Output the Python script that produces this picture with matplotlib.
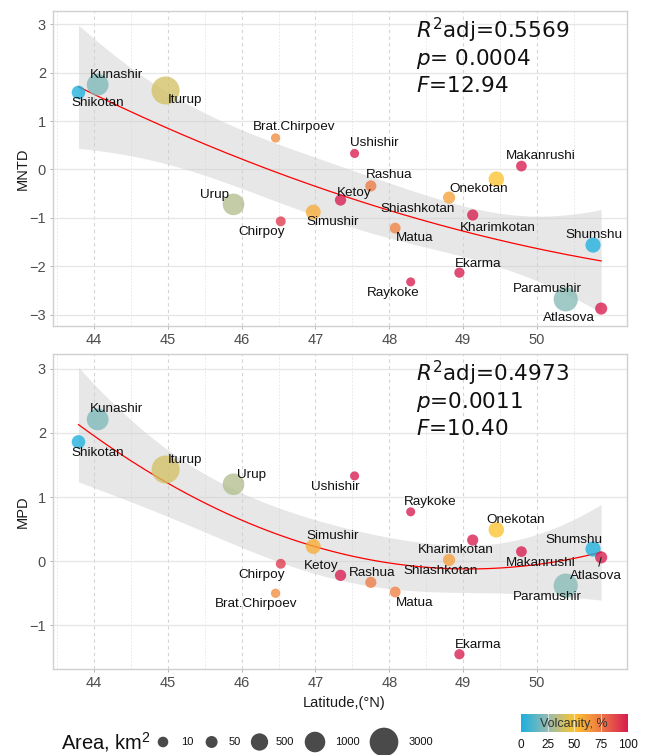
import numpy as np
import matplotlib
matplotlib.use("Agg")
import matplotlib.pyplot as plt
from matplotlib.colors import LinearSegmentedColormap

plt.rcParams['font.family'] = ['Liberation Sans', 'DejaVu Sans']
plt.rcParams['mathtext.fontset'] = 'custom'
plt.rcParams['mathtext.rm'] = 'Liberation Sans'
plt.rcParams['mathtext.it'] = 'Liberation Sans:italic'

# ---- data ----
islands = ["Shikotan", "Kunashir", "Iturup", "Urup", "Brat.Chirpoev", "Chirpoy",
           "Simushir", "Ketoy", "Ushishir", "Rashua", "Matua", "Raykoke",
           "Shiashkotan", "Ekarma", "Kharimkotan", "Onekotan", "Makanrushi",
           "Paramushir", "Shumshu", "Atlasova"]
latitude = [43.79, 44.05, 44.97, 45.89, 46.46, 46.53,
            46.97, 47.34, 47.53, 47.75, 48.08, 48.29,
            48.81, 48.95, 49.13, 49.45, 49.79,
            50.39, 50.76, 50.87]
mntd = [1.59, 1.75, 1.63, -0.72, 0.65, -1.07,
        -0.88, -0.63, 0.33, -0.34, -1.21, -2.32,
        -0.58, -2.13, -0.94, -0.20, 0.07,
        -2.68, -1.56, -2.87]
mpd = [1.86, 2.21, 1.43, 1.20, -0.50, -0.04,
       0.23, -0.22, 1.33, -0.33, -0.48, 0.77,
       0.02, -1.45, 0.33, 0.49, 0.15,
       -0.38, 0.19, 0.06]
area = [225, 1490, 3174, 1450, 9, 21,
        353, 73, 5, 67, 52, 4.6,
        122, 30, 68, 425, 49,
        2053, 388, 119]
volcanicity = [0, 20, 40, 32, 68, 92,
               58, 100, 100, 74, 72, 100,
               62, 100, 100, 50, 100,
               22, 0, 100]

area_keys = [10, 50, 500, 1000, 3000]
volc_ticks = [0, 25, 50, 75, 100]

mntd_stats = [r"$R^2$adj=0.5569", r"$p$= 0.0004", r"$F$=12.94"]
mpd_stats = [r"$R^2$adj=0.4973", r"$p$=0.0011", r"$F$=10.40"]

# label offsets in pixels (dx, dy) from each point
mntd_offsets = {
    "Shikotan": (19, -11), "Kunashir": (19, 10), "Iturup": (19, -10),
    "Urup": (-19, 9), "Brat.Chirpoev": (19, 11), "Chirpoy": (-19, -11),
    "Simushir": (19, -10), "Ketoy": (14, 7), "Ushishir": (20, 10),
    "Rashua": (18, 11), "Matua": (19, -10), "Raykoke": (-18, -11),
    "Shiashkotan": (-31, -11), "Ekarma": (19, 9), "Kharimkotan": (25, -13),
    "Onekotan": (-18, -10), "Makanrushi": (19, 10), "Paramushir": (-18, 10),
    "Shumshu": (1, 10), "Atlasova": (-32, -9),
}
mpd_offsets = {
    "Shikotan": (19, -11), "Kunashir": (19, 10), "Iturup": (19, 9),
    "Urup": (18, 9), "Brat.Chirpoev": (-19, -11), "Chirpoy": (-19, -11),
    "Simushir": (19, 10), "Ketoy": (-19, 9), "Ushishir": (-19, -11),
    "Rashua": (1, 9), "Matua": (19, -11), "Raykoke": (19, 10),
    "Shiashkotan": (-8, -11), "Ekarma": (19, 9), "Kharimkotan": (-17, -10),
    "Onekotan": (19, 10), "Makanrushi": (19, -11), "Paramushir": (-18, -11),
    "Shumshu": (-19, 9), "Atlasova": (-5, -19),
}

volc_cmap = LinearSegmentedColormap.from_list(
    "volc", ["#1CB0DE", "#96BCB2", "#FCC430", "#EE7846", "#D81C50"])

W, H = 645, 755
fig = plt.figure(figsize=(W / 100, H / 100), dpi=100)


def diam_px(a):
    return 8.3 + 0.35 * np.sqrt(np.asarray(a, dtype=float))


def quad_fit(x, y, xs):
    x = np.asarray(x)
    y = np.asarray(y)
    xm = x.mean()
    X = np.column_stack([np.ones_like(x), x - xm, (x - xm) ** 2])
    beta, *_ = np.linalg.lstsq(X, y, rcond=None)
    resid = y - X @ beta
    s2 = resid @ resid / (len(x) - 3)
    XtXi = np.linalg.inv(X.T @ X)
    Xs = np.column_stack([np.ones_like(xs), xs - xm, (xs - xm) ** 2])
    fit = Xs @ beta
    se = np.sqrt(s2 * np.einsum('ij,jk,ik->i', Xs, XtXi, Xs))
    t = 2.1098  # t(0.975, df=17)
    return fit, fit - t * se, fit + t * se


def panel(rect, yvals, ylim, yticks, ylabel, stats, offsets):
    ax = fig.add_axes(rect)
    ax.set_xlim(43.445, 51.22)
    ax.set_ylim(*ylim)
    ax.set_xticks([44, 45, 46, 47, 48, 49, 50])
    ax.set_xticks(np.arange(43.5, 51.1, 1.0), minor=True)
    ax.set_yticks(yticks)
    ax.set_axisbelow(True)
    ax.grid(axis='y', which='major', color='#e6e6e6', lw=0.9, ls='-')
    ax.grid(axis='x', which='major', color='#d4d4d4', lw=0.8, ls=(0, (3, 3)))
    ax.grid(axis='x', which='minor', color='#e4e4e4', lw=0.6, ls=(0, (2, 2)))
    for s in ax.spines.values():
        s.set_color('#d0d0d0')
        s.set_linewidth(1.0)
    ax.tick_params(which='major', length=2.5, width=0.7, color='#b3b3b3',
                   labelsize=10.5, labelcolor='#4d4d4d', pad=2.5)
    ax.tick_params(which='minor', length=0)

    xs = np.linspace(min(latitude), max(latitude), 200)
    fit, lo, hi = quad_fit(latitude, yvals, xs)
    ax.fill_between(xs, lo, hi, color='#d0d0d0', alpha=0.5, lw=0, zorder=2)
    ax.plot(xs, fit, color='#ff0000', lw=0.9, zorder=3)

    ax.scatter(latitude, yvals, s=(diam_px(area) * 0.72) ** 2,
               c=volcanicity, cmap=volc_cmap, vmin=0, vmax=100,
               alpha=0.78, lw=0, zorder=4)

    for name, x, y in zip(islands, latitude, yvals):
        dx, dy = offsets[name]
        kw = {}
        if abs(dy) > 15:
            kw['arrowprops'] = dict(arrowstyle='-', color='#222222', lw=0.8,
                                    shrinkA=1, shrinkB=0)
        ax.annotate(name, (x, y), xytext=(dx, dy), textcoords='offset pixels',
                    ha='center', va='center', fontsize=9.7, color='#111111',
                    zorder=5, **kw)

    for i, line in enumerate(stats):
        ax.text(0.632, [0.914, 0.829, 0.743][i], line, transform=ax.transAxes,
                ha='left', va='baseline', fontsize=15.5, color='#111111',
                family='DejaVu Sans', math_fontfamily='dejavusans', zorder=6)

    bb = ax.get_position()
    fig.text(23 / W, bb.y0 + bb.height / 2, ylabel, rotation=90, ha='center',
             va='center', fontsize=10.5, color='#1a1a1a')
    return ax


ax1 = panel([53 / W, 1 - 326 / H, 574 / W, 315 / H], mntd, (-3.23, 3.27),
            [-3, -2, -1, 0, 1, 2, 3], "MNTD", mntd_stats, mntd_offsets)
ax2 = panel([53 / W, 1 - 669 / H, 574 / W, 315 / H], mpd, (-1.68, 3.23),
            [-1, 0, 1, 2, 3], "MPD", mpd_stats, mpd_offsets)

fig.text(344 / W, 1 - 703 / H, "Latitude,(°N)", ha='center', va='center',
         fontsize=10.5, color='#1a1a1a')

# ---- size legend (pixel overlay) ----
lax = fig.add_axes([0, 0, 1, 1], zorder=-1)
lax.set_xlim(0, W)
lax.set_ylim(H, 0)
lax.axis('off')
leg_y = 742
lax.text(61, leg_y, "Area, km$^2$", ha='left', va='center', fontsize=14.5,
         color='#111111')
key_x = [163, 211.6, 259.5, 315, 384]
lab_x = [187, 235, 285, 347, 421]
lax.scatter(key_x, [leg_y] * len(key_x),
            s=((diam_px(area_keys) + 1.2) * 0.72) ** 2,
            color='#4a4a4a', lw=0)
for lx, k in zip(lab_x, area_keys):
    lax.text(lx, leg_y, str(k), ha='center', va='center', fontsize=8,
             color='#111111')

# ---- colour bar ----
cax = fig.add_axes([521 / W, 1 - 732 / H, 106.5 / W, 18 / H])
grad = np.linspace(0, 100, 256).reshape(1, -1)
cax.imshow(grad, cmap=volc_cmap, aspect='auto', extent=(0, 100, 0, 1),
           vmin=0, vmax=100)
for v in volc_ticks[1:-1]:
    cax.axvline(v, color='white', lw=0.7, alpha=0.6)
cax.text(50, 0.45, "Volcanity, %", ha='center', va='center', fontsize=9,
         color='#333333')
cax.set_yticks([])
cax.set_xticks(volc_ticks)
cax.tick_params(axis='x', length=0, pad=5, labelsize=8.5, labelcolor='#111111')
for s in cax.spines.values():
    s.set_visible(False)

fig.savefig("out.png", dpi=100)
